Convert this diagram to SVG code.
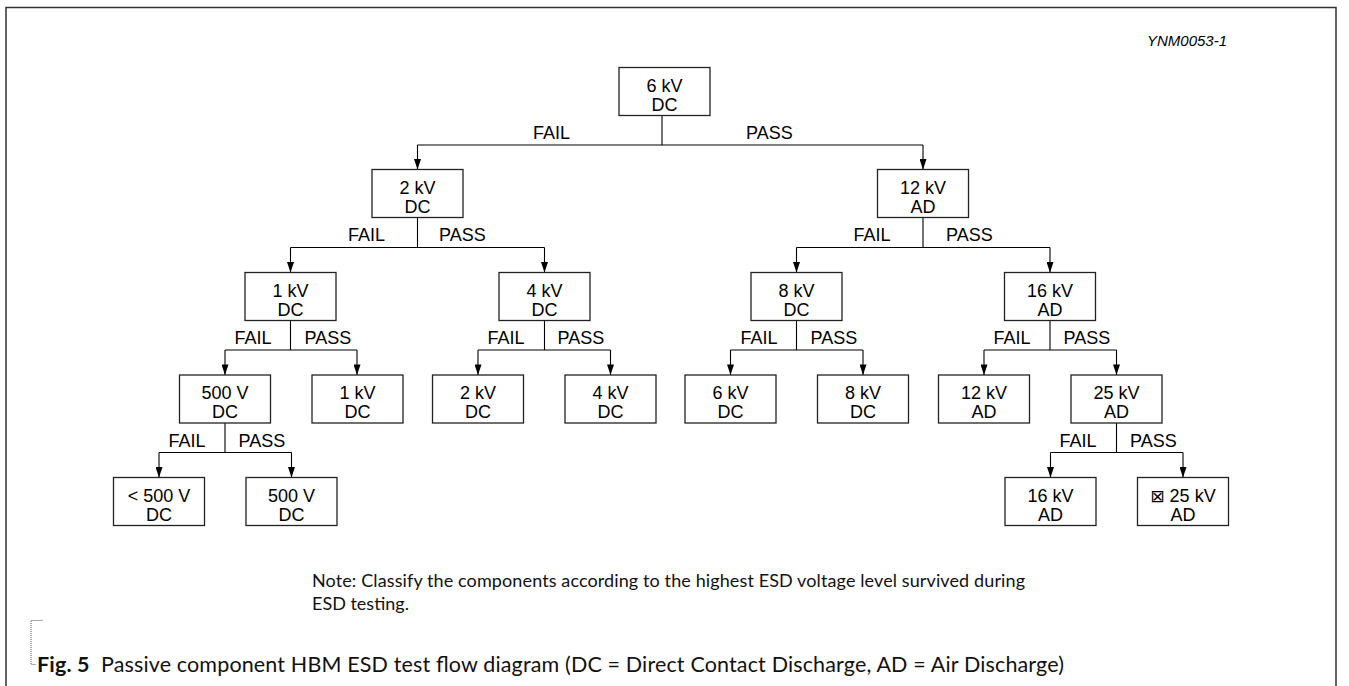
<svg xmlns="http://www.w3.org/2000/svg" width="1349" height="686" viewBox="0 0 1349 686">
<defs>
<marker id="arr" viewBox="0 0 12 8" refX="12" refY="4" markerWidth="12" markerHeight="7" markerUnits="userSpaceOnUse" orient="auto">
<path d="M0,0 L12,4 L0,8 z" fill="#000"/>
</marker>
<style>
.box{fill:#fff;stroke:#222;stroke-width:1.3}
.t{font-family:"Liberation Sans",Arial,sans-serif;font-size:18px;fill:#000;text-anchor:middle}
.lbl{font-family:"Liberation Sans",Arial,sans-serif;font-size:18px;fill:#000}
.f{text-anchor:end}
.ln{fill:none;stroke:#000;stroke-width:1.1}
.ar{fill:none;stroke:#000;stroke-width:1.1;marker-end:url(#arr)}
.frame{fill:none;stroke:#333;stroke-width:1.5}
.cap{font-family:Lato,"Open Sans",sans-serif;fill:#111}
</style>
</defs>
<rect width="1349" height="686" fill="#fff"/>
<path class="frame" d="M6,686 V7.5 H1336 V686"/>
<text x="1227" y="46" font-family="Liberation Sans, Arial, sans-serif" font-style="italic" font-size="15" text-anchor="end" fill="#000">YNM0053-1</text>

<g id="connectors">
<path class="ln" d="M662,115.5 V145 M417.5,145 H923"/>
<path class="ar" d="M417.5,145 V169.5"/>
<path class="ar" d="M923,145 V169.5"/>
<path class="ln" d="M417.5,217.5 V247.5 M290.5,247.5 H544.5"/>
<path class="ar" d="M290.5,247.5 V272.5"/>
<path class="ar" d="M544.5,247.5 V272.5"/>
<path class="ln" d="M923,217.5 V247.5 M796.5,247.5 H1050"/>
<path class="ar" d="M796.5,247.5 V272.5"/>
<path class="ar" d="M1050,247.5 V272.5"/>
<path class="ln" d="M290.5,320.5 V350 M225,350 H357"/>
<path class="ar" d="M225,350 V375"/>
<path class="ar" d="M357,350 V375"/>
<path class="ln" d="M544.5,320.5 V350 M478,350 H610.5"/>
<path class="ar" d="M478,350 V375"/>
<path class="ar" d="M610.5,350 V375"/>
<path class="ln" d="M796.5,320.5 V350 M730.5,350 H863"/>
<path class="ar" d="M730.5,350 V375"/>
<path class="ar" d="M863,350 V375"/>
<path class="ln" d="M1050,320.5 V350 M984,350 H1116.5"/>
<path class="ar" d="M984,350 V375"/>
<path class="ar" d="M1116.5,350 V375"/>
<path class="ln" d="M225,423 V452.5 M159,452.5 H291.5"/>
<path class="ar" d="M159,452.5 V477.5"/>
<path class="ar" d="M291.5,452.5 V477.5"/>
<path class="ln" d="M1116.5,423 V452.5 M1050.5,452.5 H1183"/>
<path class="ar" d="M1050.5,452.5 V477.5"/>
<path class="ar" d="M1183,452.5 V477.5"/>
</g>

<g id="labels">
<text class="lbl f" x="570" y="139">FAIL</text>
<text class="lbl" x="746" y="139">PASS</text>
<text class="lbl f" x="385" y="241">FAIL</text>
<text class="lbl" x="439" y="241">PASS</text>
<text class="lbl f" x="890.5" y="241">FAIL</text>
<text class="lbl" x="946" y="241">PASS</text>
<text class="lbl f" x="271.5" y="344">FAIL</text>
<text class="lbl" x="304.5" y="344">PASS</text>
<text class="lbl f" x="524.5" y="344">FAIL</text>
<text class="lbl" x="557.5" y="344">PASS</text>
<text class="lbl f" x="777.5" y="344">FAIL</text>
<text class="lbl" x="810.5" y="344">PASS</text>
<text class="lbl f" x="1030.5" y="344">FAIL</text>
<text class="lbl" x="1063.5" y="344">PASS</text>
<text class="lbl f" x="205.5" y="446.5">FAIL</text>
<text class="lbl" x="238.5" y="446.5">PASS</text>
<text class="lbl f" x="1096.5" y="446.5">FAIL</text>
<text class="lbl" x="1130" y="446.5">PASS</text>
</g>

<g id="n6kv"><rect class="box" x="619" y="67.5" width="91" height="48"/><text class="t" x="664.5" y="91.5">6 kV</text><text class="t" x="664.5" y="110.5">DC</text></g>
<g id="n2kv"><rect class="box" x="372" y="169.5" width="91" height="48"/><text class="t" x="417.5" y="193.5">2 kV</text><text class="t" x="417.5" y="212.5">DC</text></g>
<g id="n12kv"><rect class="box" x="877.5" y="169.5" width="91" height="48"/><text class="t" x="923" y="193.5">12 kV</text><text class="t" x="923" y="212.5">AD</text></g>
<g id="n1kv"><rect class="box" x="245" y="272.5" width="91" height="48"/><text class="t" x="290.5" y="296.5">1 kV</text><text class="t" x="290.5" y="315.5">DC</text></g>
<g id="n4kv"><rect class="box" x="499" y="272.5" width="91" height="48"/><text class="t" x="544.5" y="296.5">4 kV</text><text class="t" x="544.5" y="315.5">DC</text></g>
<g id="n8kv"><rect class="box" x="751" y="272.5" width="91" height="48"/><text class="t" x="796.5" y="296.5">8 kV</text><text class="t" x="796.5" y="315.5">DC</text></g>
<g id="n16kv"><rect class="box" x="1004.5" y="272.5" width="91" height="48"/><text class="t" x="1050" y="296.5">16 kV</text><text class="t" x="1050" y="315.5">AD</text></g>
<g id="n500v"><rect class="box" x="179.5" y="375" width="91" height="48"/><text class="t" x="225" y="399">500 V</text><text class="t" x="225" y="418">DC</text></g>
<g id="r1kv"><rect class="box" x="312" y="375" width="91" height="48"/><text class="t" x="357.5" y="399">1 kV</text><text class="t" x="357.5" y="418">DC</text></g>
<g id="r2kv"><rect class="box" x="432.5" y="375" width="91" height="48"/><text class="t" x="478" y="399">2 kV</text><text class="t" x="478" y="418">DC</text></g>
<g id="r4kv"><rect class="box" x="565" y="375" width="91" height="48"/><text class="t" x="610.5" y="399">4 kV</text><text class="t" x="610.5" y="418">DC</text></g>
<g id="r6kv"><rect class="box" x="685" y="375" width="91" height="48"/><text class="t" x="730.5" y="399">6 kV</text><text class="t" x="730.5" y="418">DC</text></g>
<g id="r8kv"><rect class="box" x="817.5" y="375" width="91" height="48"/><text class="t" x="863" y="399">8 kV</text><text class="t" x="863" y="418">DC</text></g>
<g id="r12kv"><rect class="box" x="938.5" y="375" width="91" height="48"/><text class="t" x="984" y="399">12 kV</text><text class="t" x="984" y="418">AD</text></g>
<g id="n25kv"><rect class="box" x="1071" y="375" width="91" height="48"/><text class="t" x="1116.5" y="399">25 kV</text><text class="t" x="1116.5" y="418">AD</text></g>
<g id="rlt500v"><rect class="box" x="113.5" y="477.5" width="91" height="48"/><text class="t" x="159" y="501.5">&lt; 500 V</text><text class="t" x="159" y="520.5">DC</text></g>
<g id="r500v"><rect class="box" x="246" y="477.5" width="91" height="48"/><text class="t" x="291.5" y="501.5">500 V</text><text class="t" x="291.5" y="520.5">DC</text></g>
<g id="r16kv"><rect class="box" x="1005" y="477.5" width="91" height="48"/><text class="t" x="1050.5" y="501.5">16 kV</text><text class="t" x="1050.5" y="520.5">AD</text></g>
<g id="r25kv"><rect class="box" x="1137.5" y="477.5" width="91" height="48"/><text class="t" x="1183" y="501.5"><tspan font-family="DejaVu Sans, sans-serif" font-size="17">⊠</tspan> 25 kV</text><text class="t" x="1183" y="520.5">AD</text></g>

<g id="note">
<text class="cap" x="312" y="587" font-size="18" textLength="713">Note: Classify the components according to the highest ESD voltage level survived during</text>
<text class="cap" x="312" y="610" font-size="18">ESD testing.</text>
</g>
<g id="caption">
<path d="M42.5,620.5 H31 V664.5 H36" fill="none" stroke="#555" stroke-width="1" stroke-dasharray="1,1"/>
<text class="cap" x="37" y="672" font-size="21.5" textLength="1027" xml:space="preserve"><tspan font-weight="bold">Fig. 5</tspan>  Passive component HBM ESD test flow diagram (DC = Direct Contact Discharge, AD = Air Discharge)</text>
</g>
</svg>
